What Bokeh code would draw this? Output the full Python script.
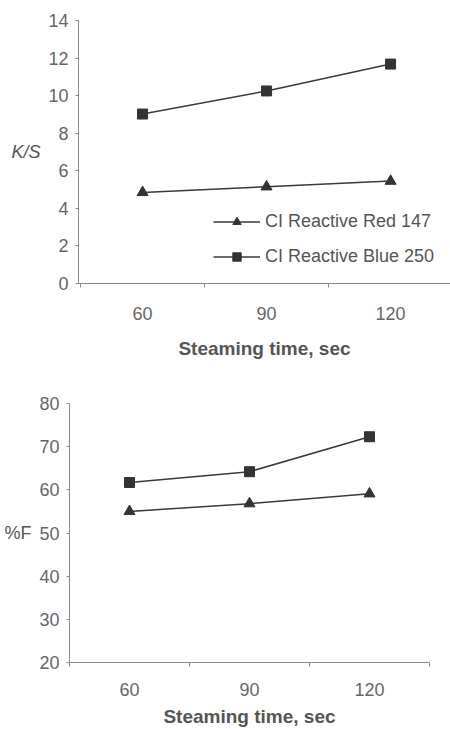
from bokeh.plotting import figure
from bokeh.models import FixedTicker, Legend, LegendItem
from bokeh.embed import file_html
from bokeh.resources import INLINE

# ---- data ----
times = [60, 90, 120]
time_labels = ["60", "90", "120"]
ks_red = [4.85, 5.15, 5.45]
ks_blue = [9.02, 10.25, 11.68]
f_red = [55.0, 56.8, 59.1]
f_blue = [61.7, 64.2, 72.3]
series_names = ["CI Reactive Red 147", "CI Reactive Blue 250"]
ks_ticks = [0, 2, 4, 6, 8, 10, 12, 14]
f_ticks = [20, 30, 40, 50, 60, 70, 80]
boundary_ticks = [45, 75, 105, 135]
xlabel = "Steaming time, sec"

FONT = "Liberation Sans"
LINE = "#3a3a3a"
MARK = "#333333"
AXIS = "#8a8a8a"
TXT = "#666666"


def style(p, yticks, ylab, ylab_style):
    p.grid.visible = False
    p.outline_line_color = None
    xa = p.xaxis[0]
    xa.ticker = FixedTicker(ticks=times, minor_ticks=boundary_ticks)
    xa.major_label_overrides = {t: l for t, l in zip(times, time_labels)}
    xa.major_tick_line_color = None
    xa.major_tick_out = 0
    xa.major_tick_in = 0
    xa.minor_tick_out = 4
    xa.minor_tick_in = 0
    xa.minor_tick_line_color = AXIS
    xa.axis_line_color = AXIS
    xa.major_label_text_font = FONT
    xa.major_label_text_font_size = "18px"
    xa.major_label_text_color = TXT
    xa.axis_label = xlabel
    xa.axis_label_text_font = FONT
    xa.axis_label_text_font_size = "19px"
    xa.axis_label_text_font_style = "bold"
    xa.axis_label_text_color = "#555555"

    ya = p.yaxis[0]
    ya.ticker = FixedTicker(ticks=yticks, minor_ticks=[])
    ya.major_tick_out = 3
    ya.major_tick_in = 0
    ya.major_tick_line_color = AXIS
    ya.axis_line_color = AXIS
    ya.major_label_text_font = FONT
    ya.major_label_text_font_size = "18px"
    ya.major_label_text_color = TXT
    ya.major_label_standoff = 7
    ya.axis_label = ylab
    ya.axis_label_orientation = "horizontal"
    ya.axis_label_text_font = FONT
    ya.axis_label_text_font_size = "18px"
    ya.axis_label_text_font_style = ylab_style
    ya.axis_label_text_color = "#555555"


# ---- top chart: K/S ----
p1 = figure(width=450, height=370, x_range=(44.5, 134.5), y_range=(0, 14),
            output_backend="svg", toolbar_location=None,
            min_border_left=78, min_border_right=0, min_border_top=20,
            min_border_bottom=87)
style(p1, ks_ticks, "K/S", "italic")
p1.xaxis[0].major_label_standoff = 19
p1.xaxis[0].axis_label_standoff = 15

r1l = p1.line(times, ks_red, line_color=LINE, line_width=1.5)
r1m = p1.scatter(times, ks_red, marker="triangle", size=11, fill_color=MARK, line_color=MARK)
r2l = p1.line(times, ks_blue, line_color=LINE, line_width=1.5)
r2m = p1.scatter(times, ks_blue, marker="square", size=10, fill_color=MARK, line_color=MARK)

legend = Legend(items=[LegendItem(label=series_names[0], renderers=[r1l, r1m]),
                       LegendItem(label=series_names[1], renderers=[r2l, r2m])],
                location=(135, 16), padding=0, margin=0, spacing=14,
                glyph_width=47, glyph_height=21, label_height=21, label_standoff=5,
                label_text_font=FONT, label_text_font_size="18px",
                label_text_color="#555555",
                border_line_color=None, background_fill_alpha=0)
p1.add_layout(legend)

# ---- bottom chart: %F ----
p2 = figure(width=450, height=359, x_range=(45, 135), y_range=(20, 80),
            output_backend="svg", toolbar_location=None,
            min_border_left=69, min_border_right=21, min_border_top=33,
            min_border_bottom=66)
style(p2, f_ticks, "%F", "normal")
p2.xaxis[0].major_label_standoff = 16
p2.xaxis[0].axis_label_standoff = 7

p2.line(times, f_red, line_color=LINE, line_width=1.5)
p2.scatter(times, f_red, marker="triangle", size=11, fill_color=MARK, line_color=MARK)
p2.line(times, f_blue, line_color=LINE, line_width=1.5)
p2.scatter(times, f_blue, marker="square", size=10, fill_color=MARK, line_color=MARK)

open("out.html", "w").write(file_html([p1, p2], INLINE))
